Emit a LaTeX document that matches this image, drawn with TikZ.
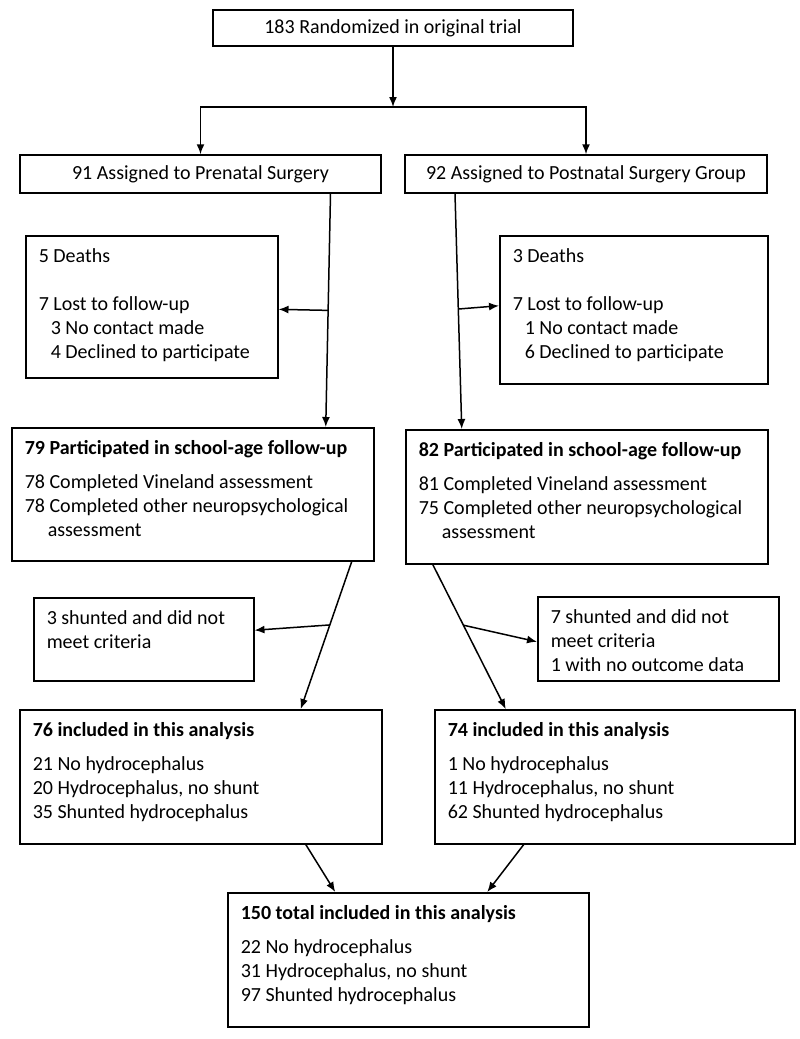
\documentclass[tikz,border=0pt]{standalone}
\usepackage{fontspec}
\setmainfont{Carlito}
\usepackage{tikz}
\usetikzlibrary{arrows.meta}
\newcommand{\boxtext}[3]{\begin{minipage}[c][#2][t]{#1}\raggedright\strut#3\end{minipage}}

\begin{document}
\begin{tikzpicture}[x=1pt, y=-1pt, line width=1.5pt, >={Latex[length=10pt,width=8pt]},
    txtbox/.style={draw, font=\fontsize{20}{24}\selectfont, inner xsep=13pt, inner ysep=10pt, anchor=north west},
    onebox/.style={draw, font=\fontsize{20}{24}\selectfont, anchor=center}]
  \useasboundingbox (0,0) rectangle (800,1039);

  % Draw the top of the chart
  \node[onebox, minimum width=360pt, minimum height=36pt] (rand) at (393,28) {183 Randomized in original trial};
  \node[onebox, minimum width=361pt, minimum height=38pt] (pre) at (200.5,174) {91 Assigned to Prenatal Surgery};
  \node[onebox, minimum width=362pt, minimum height=38pt] (post) at (586,174) {92 Assigned to Postnatal Surgery Group};
  \coordinate (split) at (393,107);
  \draw[->] (rand) -- (split);
  \draw[->] (split) -| (pre);
  \draw[->] (split) -| (post);

  % Draw the losses
  \node[txtbox] (lossL) at (25,235) {\boxtext{226pt}{122pt}{5 Deaths\\[24pt]7 Lost to follow-up\\
    \hspace*{12pt}3 No contact made\\ \hspace*{12pt}4 Declined to participate}};
  \node[txtbox] (lossR) at (499,235) {\boxtext{242pt}{128pt}{3 Deaths\\[24pt]7 Lost to follow-up\\
    \hspace*{12pt}1 No contact made\\ \hspace*{12pt}6 Declined to participate}};

  % Draw the follow-up boxes
  \node[txtbox] (partL) at (11,427) {\boxtext{336pt}{113pt}{\textbf{79 Participated in school-age follow-up}\\[10pt]
    78 Completed Vineland assessment\\ 78 Completed other neuropsychological\\ \hspace*{23pt}assessment}};
  \node[txtbox] (partR) at (405,429) {\boxtext{336pt}{114pt}{\textbf{82 Participated in school-age follow-up}\\[10pt]
    81 Completed Vineland assessment\\ 75 Completed other neuropsychological\\ \hspace*{23pt}assessment}};

  \draw[->] ([xshift=130pt]pre.south) -- ([xshift=133pt]partL.north) coordinate[pos=.5] (lossLsplit);
  \draw[->] (lossLsplit) -- (lossL);
  \draw[->] ([xshift=-131pt]post.south) -- ([xshift=-125pt]partR.north) coordinate[pos=.49] (lossRsplit);
  \draw[->] (lossRsplit) -- ([yshift=4pt]lossR.west);

  % Draw the exclusions
  \node[txtbox] (exclL) at (33,597) {\boxtext{194pt}{63pt}{3 shunted and did not\\ meet criteria}};
  \node[txtbox] (exclR) at (537,596) {\boxtext{215pt}{64pt}{7 shunted and did not\\ meet criteria\\ 1 with no outcome data}};

  % Draw the analysis boxes
  \node[txtbox] (inclL) at (19,709) {\boxtext{336pt}{114pt}{\textbf{76 included in this analysis}\\[10pt]
    21 No hydrocephalus\\ 20 Hydrocephalus, no shunt\\ 35 Shunted hydrocephalus}};
  \node[txtbox] (inclR) at (434,709) {\boxtext{334pt}{114pt}{\textbf{74 included in this analysis}\\[10pt]
    1 No hydrocephalus\\ 11 Hydrocephalus, no shunt\\ 62 Shunted hydrocephalus}};

  \draw[->] ([xshift=159pt]partL.south) -- ([xshift=100pt]inclL.north) coordinate[pos=.43] (exclLsplit);
  \draw[->] (exclLsplit) -- ([yshift=9pt]exclL.east);
  \draw[->] ([xshift=-154pt]partR.south) -- ([xshift=-109pt]inclR.north) coordinate[pos=.42] (exclRsplit);
  \draw[->] (exclRsplit) -- ([yshift=-3pt]exclR.west);

  % Draw the total
  \node[txtbox] (total) at (227,892) {\boxtext{335pt}{114pt}{\textbf{150 total included in this analysis}\\[10pt]
    22 No hydrocephalus\\ 31 Hydrocephalus, no shunt\\ 97 Shunted hydrocephalus}};
  \draw[->] ([xshift=105pt]inclL.south) -- ([xshift=-73pt]total.north);
  \draw[->] ([xshift=-91pt]inclR.south) -- ([xshift=79pt]total.north);
\end{tikzpicture}
\end{document}
